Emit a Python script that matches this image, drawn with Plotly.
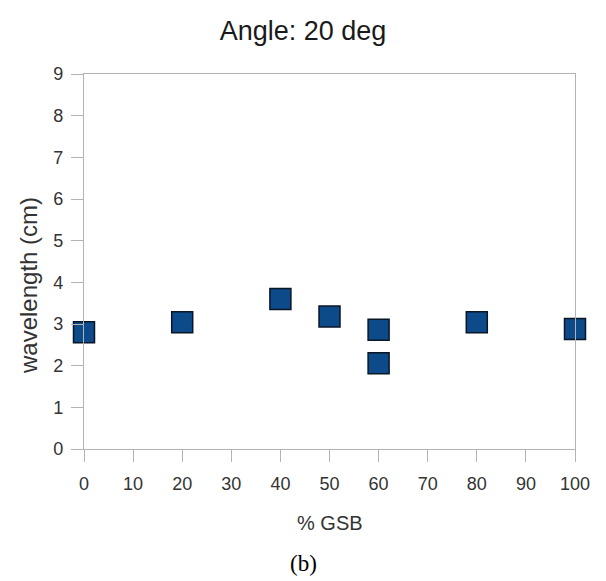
import plotly.graph_objects as go

gsb_pct = [0, 20, 40, 50, 60, 60, 80, 100]
wavelength_cm = [2.8, 3.04, 3.6, 3.18, 2.86, 2.06, 3.04, 2.88]
x_ticks = list(range(0, 101, 10))
y_ticks = list(range(0, 10))

FONT = "Liberation Sans, Arial, sans-serif"
AXCOL = "#b3b3b3"

fig = go.Figure()
fig.add_trace(go.Scatter(
    x=gsb_pct, y=wavelength_cm, mode="markers",
    marker=dict(symbol="square", size=21, color="#0d4a8a",
                line=dict(color="#0a1626", width=1.5)),
    cliponaxis=False, showlegend=False,
))

fig.update_layout(
    width=606, height=581,
    margin=dict(l=84, r=31, t=74, b=132),
    paper_bgcolor="white", plot_bgcolor="white",
    font=dict(family=FONT, size=18, color="#333333"),
    title=dict(text="Angle: 20 deg", x=0.5, xanchor="center", y=1 - 31 / 581,
               yanchor="middle", font=dict(size=27, color="#1a1a1a", family=FONT)),
    xaxis=dict(range=[0, 100], tickvals=x_ticks, showgrid=False, zeroline=False,
               showline=True, linecolor=AXCOL, linewidth=1.3, mirror=True,
               ticks="outside", ticklen=12, tickcolor=AXCOL, tickwidth=1.3,
               ticklabelstandoff=6,
               tickfont=dict(size=18, color="#333333")),
    yaxis=dict(range=[0, 9], tickvals=y_ticks, showgrid=False, zeroline=False,
               showline=True, linecolor=AXCOL, linewidth=1.3, mirror=True,
               ticks="outside", ticklen=12, tickcolor=AXCOL, tickwidth=1.3,
               ticklabelstandoff=4,
               tickfont=dict(size=18, color="#333333")),
    annotations=[
        dict(text="% GSB", xref="paper", yref="paper", x=0.5, y=-(523 - 449) / 375,
             showarrow=False, xanchor="center", yanchor="middle",
             font=dict(size=20, color="#333333", family=FONT)),
        dict(text="wavelength (cm)", xref="paper", yref="paper",
             x=-(84 - 28) / 491, y=(449 - 286) / 375, textangle=-90, showarrow=False,
             xanchor="center", yanchor="middle",
             font=dict(size=24, color="#333333", family=FONT)),
        dict(text="(b)", xref="paper", yref="paper", x=(303 - 84) / 491,
             y=-(563 - 449) / 375, showarrow=False, xanchor="center", yanchor="middle",
             font=dict(size=23, color="#000000",
                       family="Liberation Serif, Times New Roman, serif")),
    ],
)

fig.write_html("out.html")
